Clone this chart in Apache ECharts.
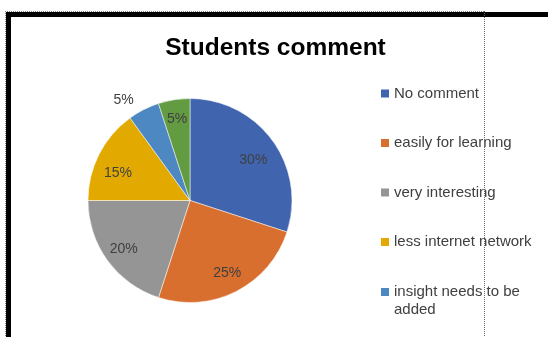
<!DOCTYPE html>
<html>
<head>
<meta charset="utf-8">
<script src="https://cdn.jsdelivr.net/npm/echarts@6/dist/echarts.min.js"></script>
<style>
html,body{margin:0;padding:0;background:#fff;}
#chart{width:548px;height:337px;}
</style>
</head>
<body>
<div id="chart"></div>
<script>
const categories = ['No comment', 'easily for learning', 'very interesting', 'less internet network', 'insight needs to be added', 'other'];
const values = [30, 25, 20, 15, 5, 5];
const colors = ['#4064AE', '#D86F2E', '#959595', '#E2AA00', '#4E88C2', '#629B41'];
const titleText = 'Students comment';

const chart = echarts.init(document.getElementById('chart'));
const cx = 190, cy = 200.5, R = 102;

const pieData = categories.map((n, i) => ({ name: n, value: values[i], itemStyle: { color: colors[i] } }));
const labelData = categories.map((n, i) => {
  const d = { name: n, value: values[i] };
  if (i === 0) d.label = { offset: [-3, 8] };
  if (i === 3) d.label = { offset: [1, 10] };
  if (i === 4) {
    d.label = { position: 'outside' };
    d.labelLine = { show: false, length: 11, length2: 0 };
  }
  return d;
});

const legendText = { fontFamily: 'Liberation Sans', fontSize: 15, color: '#404040', lineHeight: 18 };
const legendCommon = {
  orient: 'vertical', left: 381, padding: 0,
  itemWidth: 8, itemHeight: 8, itemGap: 31.5, icon: 'rect',
  itemStyle: { borderWidth: 0 },
  selectedMode: false,
  textStyle: legendText
};

chart.setOption({
  animation: false,
  backgroundColor: '#fff',
  title: {
    text: titleText,
    left: 270.5, top: 31, textAlign: 'center',
    textStyle: { fontFamily: 'Liberation Sans', fontWeight: 'bold', fontSize: 24.5, color: '#000' }
  },
  legend: [Object.assign({}, legendCommon, {
    top: 84.5,
    data: categories.slice(0, 4)
  }), Object.assign({}, legendCommon, {
    top: 265,
    data: categories.slice(4),
    formatter: n => n === 'insight needs to be added' ? '\ninsight needs to be\nadded' : n
  })],
  series: [{
    type: 'pie',
    center: [cx, cy], radius: R,
    startAngle: 90, clockwise: true,
    label: { show: false }, labelLine: { show: false },
    itemStyle: { borderColor: '#fff', borderWidth: 0.5 },
    emphasis: { disabled: true },
    data: pieData
  }, {
    type: 'pie',
    center: [cx, cy], radius: [56, R],
    startAngle: 90, clockwise: true,
    silent: true,
    legendHoverLink: false,
    itemStyle: { color: 'rgba(0,0,0,0)' },
    label: {
      show: true, position: 'inside',
      formatter: p => p.value + '%',
      fontFamily: 'Liberation Sans', fontSize: 14, color: '#404040'
    },
    labelLine: { show: false },
    emphasis: { disabled: true },
    data: labelData
  }],
  graphic: [
    { type: 'rect', shape: { x: 6, y: 12, width: 5, height: 330 }, style: { fill: '#000' }, silent: true },
    { type: 'rect', shape: { x: 6, y: 12, width: 548, height: 5 }, style: { fill: '#000' }, silent: true },
    { type: 'line', shape: { x1: 5.5, y1: 11, x2: 5.5, y2: 337 }, style: { stroke: '#888', lineWidth: 1, lineDash: [1, 1] }, silent: true },
    { type: 'line', shape: { x1: 5, y1: 11.5, x2: 484, y2: 11.5 }, style: { stroke: '#888', lineWidth: 1, lineDash: [1, 1] }, silent: true },
    { type: 'line', shape: { x1: 484.5, y1: 11, x2: 484.5, y2: 337 }, style: { stroke: '#666', lineWidth: 1, lineDash: [1, 1] }, silent: true, z: 100 }
  ]
});
</script>
</body>
</html>
